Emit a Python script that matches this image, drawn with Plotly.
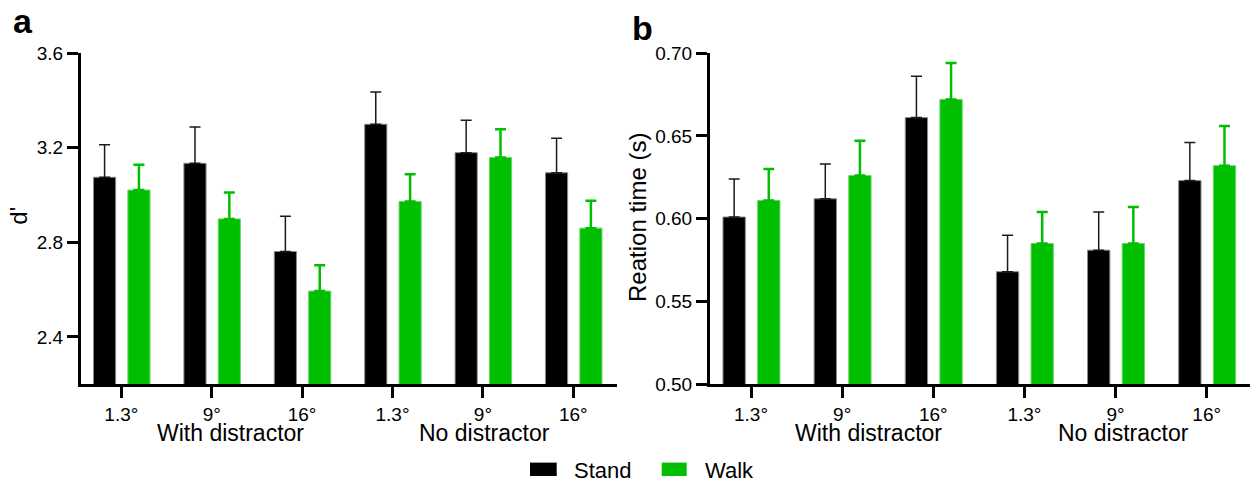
import plotly.graph_objects as go

# ---------------- data ----------------
angles = ["1.3°", "9°", "16°", "1.3°", "9°", "16°"]
groups = ["With distractor", "No distractor"]

dprime_stand = [3.075, 3.134, 2.761, 3.299, 3.179, 3.094]
dprime_stand_err = [0.137, 0.153, 0.149, 0.136, 0.137, 0.146]
dprime_walk = [3.021, 2.899, 2.594, 2.973, 3.158, 2.860]
dprime_walk_err = [0.107, 0.112, 0.109, 0.115, 0.120, 0.116]

rt_stand = [0.601, 0.612, 0.661, 0.568, 0.581, 0.623]
rt_stand_err = [0.023, 0.021, 0.025, 0.022, 0.023, 0.023]
rt_walk = [0.611, 0.626, 0.672, 0.585, 0.585, 0.632]
rt_walk_err = [0.019, 0.021, 0.022, 0.019, 0.022, 0.024]

# ---------------- style ----------------
W, H = 1251, 487
FONT = "Liberation Sans, Arial, sans-serif"
BLACK = "#000000"
GREEN = "#00bf00"
BAR_W = 0.245
OFF_STAND = -0.185 - BAR_W / 2
OFF_WALK = 0.195 - BAR_W / 2
xpos = list(range(len(angles)))

# the captured page is drawn slightly squeezed vertically (top ~9px, scale ~0.963);
# layout positions are given in target screen pixels and mapped back here.
Y_OFF, Y_SCALE = 9.0, 0.963


def px(x):
    return x / W


def py(y):
    return 1 - ((y - Y_OFF) / Y_SCALE) / H


fig = go.Figure()


def add_pair(stand, stand_err, walk, walk_err, xa, ya):
    fig.add_trace(go.Bar(
        x=xpos, y=stand, width=BAR_W, offset=OFF_STAND, xaxis=xa, yaxis=ya,
        marker=dict(color=BLACK, line=dict(color="#8a8a8a", width=1)),
        error_y=dict(type="data", array=stand_err, arrayminus=[0] * len(stand),
                     symmetric=False, color="#1a1a1a", thickness=1.5, width=5.5),
        showlegend=False, name="Stand"))
    fig.add_trace(go.Bar(
        x=xpos, y=walk, width=BAR_W, offset=OFF_WALK, xaxis=xa, yaxis=ya,
        marker=dict(color=GREEN, line=dict(color="#6ad66a", width=1)),
        error_y=dict(type="data", array=walk_err, arrayminus=[0] * len(walk),
                     symmetric=False, color=GREEN, thickness=2.5, width=5.5),
        showlegend=False, name="Walk"))


add_pair(dprime_stand, dprime_stand_err, dprime_walk, dprime_walk_err, "x", "y")
add_pair(rt_stand, rt_stand_err, rt_walk, rt_walk_err, "x2", "y2")

ydom = [py(385.7), py(52.3)]
tickfont = dict(family=FONT, size=19, color="black")
axis_common = dict(showline=True, linecolor="black", linewidth=3, ticks="outside",
                   tickwidth=3, tickcolor="black", showgrid=False,
                   zeroline=False, tickfont=tickfont)

fig.update_layout(
    width=W, height=H, margin=dict(l=0, r=0, t=0, b=0),
    plot_bgcolor="white", paper_bgcolor="white", barmode="overlay",
    font=dict(family=FONT, color="black"),
    xaxis=dict(domain=[px(81), px(617.3)], range=[-0.446, 5.487], anchor="y",
               tickvals=xpos, ticktext=angles, ticklen=10.5, **axis_common),
    yaxis=dict(domain=ydom, range=[2.2, 3.6], anchor="x", ticklen=11,
               tickvals=[2.4, 2.8, 3.2, 3.6], ticktext=["2.4", "2.8", "3.2", "3.6"],
               **axis_common),
    xaxis2=dict(domain=[px(710), px(1250)], range=[-0.45, 5.475], anchor="y2",
                tickvals=xpos, ticktext=angles, ticklen=10.5, **axis_common),
    yaxis2=dict(domain=ydom, range=[0.5, 0.7], anchor="x2", ticklen=11,
                tickvals=[0.5, 0.55, 0.6, 0.65, 0.7],
                ticktext=["0.50", "0.55", "0.60", "0.65", "0.70"], **axis_common),
)

ann = []
# group labels
for xr, xs in (("x", [1.211, 4.015]), ("x2", [1.289, 4.088])):
    for g, xv in zip(groups, xs):
        ann.append(dict(x=xv, xref=xr, y=py(434.5), yref="paper", text=g,
                        showarrow=False, xanchor="center", yanchor="middle",
                        font=dict(family=FONT, size=23, color="black")))
# y titles
ann.append(dict(x=px(19), y=py(216), xref="paper", yref="paper", text="d'",
                textangle=-90, showarrow=False, xanchor="center", yanchor="middle",
                font=dict(family=FONT, size=24, color="black")))
ann.append(dict(x=px(638), y=py(218.3), xref="paper", yref="paper",
                text="Reation time (s)", textangle=-90, showarrow=False,
                xanchor="center", yanchor="middle",
                font=dict(family=FONT, size=24, color="black")))
# panel letters
ann.append(dict(x=px(11), y=py(20.3), xref="paper", yref="paper", text="<b>a</b>",
                showarrow=False, xanchor="left", yanchor="middle",
                font=dict(family=FONT, size=34, color="black")))
ann.append(dict(x=px(630), y=py(27), xref="paper", yref="paper", text="<b>b</b>",
                showarrow=False, xanchor="left", yanchor="middle",
                font=dict(family=FONT, size=34, color="black")))
# legend
shapes = []
for name, col, x0, x1, tx in (("Stand", BLACK, 530, 556.7, 571.7),
                               ("Walk", GREEN, 661.7, 686.7, 703)):
    shapes.append(dict(type="rect", xref="paper", yref="paper", x0=px(x0), x1=px(x1),
                       y0=max(py(480.7), 0), y1=py(464.5), fillcolor=col,
                       line=dict(width=0)))
    ann.append(dict(x=px(tx), y=py(472.5), xref="paper", yref="paper", text=name,
                    showarrow=False, xanchor="left", yanchor="middle",
                    font=dict(family=FONT, size=22, color="black")))

fig.update_layout(annotations=ann, shapes=shapes)
fig.write_html("out.html")
